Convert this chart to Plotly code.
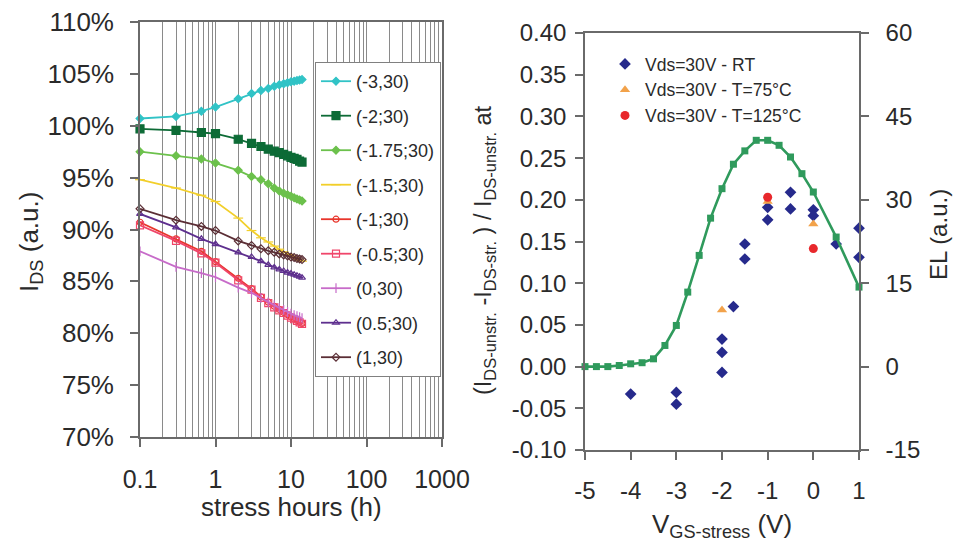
import plotly.graph_objects as go

# ---------------- left panel: drain current vs. stress time ----------------
hours = [0.1, 0.3, 0.65, 1, 2, 3, 4, 5, 6, 7, 8, 9, 10, 11, 12, 13, 14]

ids_m3 = [100.7, 100.9, 101.4, 101.8, 102.6, 103.1, 103.4, 103.6, 103.8, 103.95, 104.05, 104.15, 104.25, 104.3, 104.35, 104.4, 104.45]
ids_m2 = [99.7, 99.55, 99.35, 99.25, 98.7, 98.3, 98.0, 97.75, 97.55, 97.4, 97.25, 97.1, 96.95, 96.85, 96.75, 96.6, 96.5]
ids_m175 = [97.5, 97.1, 96.8, 96.4, 95.7, 95.1, 94.8, 94.4, 94.0, 93.7, 93.5, 93.35, 93.2, 93.05, 92.95, 92.85, 92.75]
ids_m15 = [94.8, 94.0, 93.3, 92.7, 91.1, 89.9, 89.2, 88.8, 88.4, 88.1, 87.85, 87.6, 87.45, 87.3, 87.15, 87.05, 86.95]
ids_m1 = [90.7, 89.1, 87.9, 86.9, 85.3, 84.3, 83.5, 83.0, 82.6, 82.3, 82.0, 81.8, 81.6, 81.4, 81.25, 81.1, 80.95]
ids_m05 = [90.4, 88.9, 87.7, 86.8, 85.1, 84.2, 83.4, 82.9, 82.5, 82.2, 81.95, 81.7, 81.5, 81.35, 81.2, 81.05, 80.9]
ids_0 = [87.9, 86.4, 85.8, 85.4, 84.4, 83.9, 83.4, 83.0, 82.7, 82.45, 82.25, 82.05, 81.9, 81.75, 81.65, 81.55, 81.45]
ids_p05 = [91.5, 90.2, 89.1, 88.6, 87.8, 87.35, 86.95, 86.6, 86.35, 86.15, 86.0, 85.85, 85.75, 85.65, 85.55, 85.45, 85.35]
ids_p1 = [92.0, 90.9, 90.3, 89.9, 88.9, 88.45, 88.15, 87.95, 87.8, 87.65, 87.55, 87.45, 87.35, 87.3, 87.2, 87.15, 87.1]

series_names = ["(-3,30)", "(-2;30)", "(-1.75;30)", "(-1.5;30)", "(-1;30)",
                "(-0.5;30)", "(0,30)", "(0.5;30)", "(1,30)"]
series_values = [ids_m3, ids_m2, ids_m175, ids_m15, ids_m1, ids_m05, ids_0, ids_p05, ids_p1]

pct_ticks = [70, 75, 80, 85, 90, 95, 100, 105, 110]
pct_ticklabels = ["70%", "75%", "80%", "85%", "90%", "95%", "100%", "105%", "110%"]
hour_ticks = [0.1, 1, 10, 100, 1000]
hour_ticklabels = ["0.1", "1", "10", "100", "1000"]

# ---------------- right panel: degradation vs. gate stress voltage ----------------
vgs_el = [-5, -4.75, -4.5, -4.25, -4, -3.75, -3.5, -3.25, -3, -2.75, -2.5, -2.25,
          -2, -1.75, -1.5, -1.25, -1, -0.75, -0.5, -0.25, 0, 0.5, 1]
el_values = [0, 0, 0, 0.2, 0.5, 0.7, 1.4, 3.8, 7.4, 13.4, 20.0, 26.7,
             32.0, 36.4, 38.8, 40.7, 40.7, 39.8, 37.7, 34.7, 31.4, 23.3, 14.3]

vgs_rt = [-4, -3, -3, -2, -2, -2, -1.75, -1.5, -1.5, -1, -1, -0.5, -0.5, 0, 0, 0.5, 1, 1]
deg_rt = [-0.033, -0.031, -0.045, 0.033, 0.017, -0.007, 0.072, 0.147, 0.129,
          0.191, 0.176, 0.209, 0.189, 0.188, 0.181, 0.147, 0.166, 0.131]
vgs_75 = [-2, -1, 0]
deg_75 = [0.068, 0.198, 0.171]
vgs_125 = [-1, 0]
deg_125 = [0.203, 0.1415]

vgs_ticks = [-5, -4, -3, -2, -1, 0, 1]
vgs_ticklabels = ["-5", "-4", "-3", "-2", "-1", "0", "1"]
deg_ticks = [-0.1, -0.05, 0, 0.05, 0.1, 0.15, 0.2, 0.25, 0.3, 0.35, 0.4]
deg_ticklabels = ["-0.10", "-0.05", "0.00", "0.05", "0.10", "0.15", "0.20",
                  "0.25", "0.30", "0.35", "0.40"]
el_ticks = [-15, 0, 15, 30, 45, 60]
el_ticklabels = ["-15", "0", "15", "30", "45", "60"]

W, H = 958, 545
FONT = "Liberation Sans, Arial, sans-serif"
TXT = "#2a2a2a"
AX = "#6a6a6a"
GRID = "#8a8a8a"

styles = [
    dict(color="#31c3c6", symbol="diamond", size=6),
    dict(color="#0d6b36", symbol="square", size=8),
    dict(color="#6cc14c", symbol="diamond", size=6),
    dict(color="#f2cf2a", symbol="line-ew", size=7),
    dict(color="#e8352b", symbol="circle-open", size=6),
    dict(color="#f0466a", symbol="square-open", size=7),
    dict(color="#c76bc9", symbol="line-ns", size=7),
    dict(color="#5e2f8e", symbol="triangle-up-open", size=6),
    dict(color="#5b2e35", symbol="diamond-open", size=6),
]

fig = go.Figure()

for name, vals, st in zip(series_names, series_values, styles):
    fig.add_trace(go.Scatter(
        x=hours, y=vals, name=name, mode="lines+markers",
        xaxis="x", yaxis="y", legend="legend", legendgroup=name,
        line=dict(color=st["color"], width=1.8),
        marker=dict(symbol=st["symbol"], size=st["size"], color=st["color"],
                    line=dict(color=st["color"], width=1.2)),
        cliponaxis=False,
    ))

# EL curve on the right-hand axis
fig.add_trace(go.Scatter(
    x=vgs_el, y=el_values, mode="lines+markers", showlegend=False,
    xaxis="x2", yaxis="y3",
    line=dict(color="#2f9a5c", width=2.6),
    marker=dict(symbol="square", size=7, color="#2f9a5c"),
    cliponaxis=False,
))
fig.add_trace(go.Scatter(
    x=vgs_rt, y=deg_rt, mode="markers", name="Vds=30V - RT",
    xaxis="x2", yaxis="y2", legend="legend2",
    marker=dict(symbol="diamond", size=9, color="#262a8c"),
    cliponaxis=False,
))
fig.add_trace(go.Scatter(
    x=vgs_75, y=deg_75, mode="markers", name="Vds=30V - T=75°C",
    xaxis="x2", yaxis="y2", legend="legend2",
    marker=dict(symbol="triangle-up", size=9, color="#f2a24a"),
    cliponaxis=False,
))
fig.add_trace(go.Scatter(
    x=vgs_125, y=deg_125, mode="markers", name="Vds=30V - T=125°C",
    xaxis="x2", yaxis="y2", legend="legend2",
    marker=dict(symbol="circle", size=9, color="#e8282c"),
    cliponaxis=False,
))

# panel domains (paper fractions)
L_X = [140 / W, 442 / W]
L_Y = [1 - 437 / H, 1 - 22 / H]
R_X = [585 / W, 859 / W]
R_Y = [1 - 450 / H, 1 - 33 / H]

minor_hours = [m * d for d in (0.1, 1, 10, 100) for m in range(2, 10)]


def tickstyle(size):
    return dict(tickfont=dict(family=FONT, size=size, color=TXT), ticklen=8,
                tickwidth=1.6, tickcolor=AX, linecolor=AX, linewidth=1.6,
                zeroline=False, automargin=False, ticks="outside")


# overlay axes carry the inner half of each tick so ticks cross the axis line
inner = dict(ticks="inside", ticklen=8, tickwidth=1.6, tickcolor=AX,
             showticklabels=False, showgrid=False, showline=False,
             zeroline=False, automargin=False)


def label(text, x, y, size, angle=0):
    return dict(text=text, x=x / W, y=1 - y / H, xref="paper", yref="paper",
                xanchor="center", yanchor="middle", showarrow=False,
                textangle=angle, font=dict(family=FONT, size=size, color=TXT))


fig.update_layout(
    width=W, height=H,
    margin=dict(l=0, r=0, t=0, b=0, autoexpand=False),
    paper_bgcolor="white", plot_bgcolor="white",
    font=dict(family=FONT, color=TXT),
    xaxis=dict(domain=L_X, anchor="y", type="log", range=[-1, 3],
               tickvals=hour_ticks, ticktext=hour_ticklabels,
               showgrid=True, gridcolor=GRID, gridwidth=1,
               minor=dict(tickvals=minor_hours, showgrid=True, gridcolor=GRID,
                          gridwidth=1, ticks=""),
               showline=True, mirror=True, ticklabelstandoff=11,
               **tickstyle(25)),
    yaxis=dict(domain=L_Y, anchor="x", range=[70, 110], tickvals=pct_ticks,
               ticktext=pct_ticklabels, showgrid=False,
               showline=True, mirror=True, ticklabelstandoff=11,
               **tickstyle(26)),
    xaxis4=dict(overlaying="x", anchor="y", type="log", range=[-1, 3],
                tickvals=hour_ticks, **inner),
    yaxis4=dict(overlaying="y", anchor="x", range=[70, 110], tickvals=pct_ticks, **inner),
    xaxis2=dict(domain=R_X, anchor="y2", range=[-5, 1], tickvals=vgs_ticks,
                ticktext=vgs_ticklabels, showgrid=False, showline=True,
                mirror=True, ticklabelstandoff=10, **tickstyle(24)),
    yaxis2=dict(domain=R_Y, anchor="x2", range=[-0.1, 0.4], tickvals=deg_ticks,
                ticktext=deg_ticklabels, showgrid=False,
                showline=True, mirror=True, ticklabelstandoff=4,
                **tickstyle(24)),
    yaxis3=dict(overlaying="y2", anchor="x2", side="right", range=[-15, 60],
                tickvals=el_ticks, ticktext=el_ticklabels, showgrid=False,
                showline=True, ticklabelstandoff=12, **tickstyle(24)),
    xaxis5=dict(overlaying="x2", anchor="y2", range=[-5, 1], tickvals=vgs_ticks, **inner),
    yaxis5=dict(overlaying="y2", anchor="x2", range=[-0.1, 0.4], tickvals=deg_ticks, **inner),
    yaxis6=dict(overlaying="y2", anchor="x2", side="right", range=[-15, 60],
                tickvals=el_ticks, **inner),
    legend=dict(x=315 / W, y=1 - 62 / H, xanchor="left", yanchor="top",
                bgcolor="white", bordercolor="#808080", borderwidth=1,
                font=dict(family=FONT, size=18, color=TXT),
                tracegroupgap=8.1, itemwidth=30),
    legend2=dict(x=605 / W, y=1 - 46 / H, xanchor="left", yanchor="top",
                 bgcolor="rgba(0,0,0,0)", borderwidth=0,
                 font=dict(family=FONT, size=17.5, color=TXT),
                 itemwidth=30, tracegroupgap=0),
    annotations=[
        label("I<sub>DS</sub> (a.u.)", 30, 242, 26, -90),
        label("stress hours (h)", 291, 507, 26),
        label("(I<sub>DS-unstr.</sub> -I<sub>DS-str.</sub> ) / I<sub>DS-unstr.</sub> at",
              484, 250, 23.5, -90),
        label("V<sub>GS-stress</sub> (V)", 722, 525, 26),
        label("EL (a.u.)", 938, 235, 24, -90),
    ],
)

fig.write_html("out.html")
